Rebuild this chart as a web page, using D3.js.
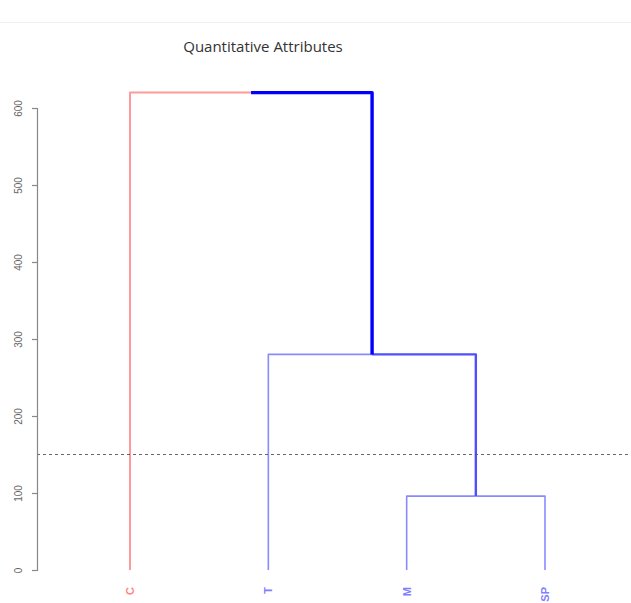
<!DOCTYPE html>
<html>
<head>
<meta charset="utf-8">
<script src="https://cdn.jsdelivr.net/npm/d3@7"></script>
<style>
  html, body { margin: 0; padding: 0; background: #fff; overflow: hidden; }
  svg { display: block; }
</style>
</head>
<body>
<svg id="chart" width="631" height="603"></svg>
<script>
// Leaves of the dendrogram, left to right
const leaves = ["C", "T", "M", "SP"];
// Cluster membership of each leaf (k = 2 cut)
const leafCluster = ["red", "blue", "blue", "blue"];
// Agglomeration steps: [left child, right child, height]; numbers refer to earlier merges
const merges = [
  ["M", "SP", 96],
  ["T", 0, 280],
  ["C", 1, 620]
];
// Height of the cut line
const cutHeight = 150;
// Y-axis ticks
const yTicks = [0, 100, 200, 300, 400, 500, 600];
const title = "Quantitative Attributes";

const svg = d3.select("#chart");
const W = 631, H = 603;

// faint header strip at the very top
svg.append("line").attr("x1", 0).attr("x2", W).attr("y1", 22.5).attr("y2", 22.5)
  .attr("stroke", "#eeeeee").attr("stroke-width", 1);

const x = d3.scalePoint().domain(leaves).range([130, 545]);
const y = d3.scaleLinear().domain([0, 600]).range([570, 108]);

// Edge styles (edge drawn from a node up to its parent)
const styles = {
  red:    { stroke: "#ff9a9a", width: 2 },
  thin:   { stroke: "#8a8aff", width: 1.6 },
  medium: { stroke: "#4f4fff", width: 2.4 },
  thick:  { stroke: "#0000ff", width: 3.4 }
};

// Leaf nodes
const nodes = {};
leaves.forEach((name, i) => {
  nodes[name] = { x: x(name), h: 0, style: leafCluster[i] === "red" ? "red" : "thin" };
});
// Internal nodes, each centred between its two children
const built = [];
merges.forEach(m => {
  const a = typeof m[0] === "number" ? built[m[0]] : nodes[m[0]];
  const b = typeof m[1] === "number" ? built[m[1]] : nodes[m[1]];
  built.push({ x: (a.x + b.x) / 2, h: m[2], children: [a, b] });
});
// Styles of internal edges: merge 0 sits under merge 1, merge 1 under the root
built[0].style = "medium";
built[1].style = "thick";

const g = svg.append("g");
built.forEach(node => {
  node.children.forEach(child => {
    const st = styles[child.style];
    const path = d3.path();
    path.moveTo(child.x, y(child.h));
    path.lineTo(child.x, y(node.h));
    path.lineTo(node.x, y(node.h));
    g.append("path")
      .attr("d", path.toString())
      .attr("fill", "none")
      .attr("stroke", st.stroke)
      .attr("stroke-width", st.width)
      .attr("stroke-linejoin", "round")
      .attr("stroke-linecap", "butt");
  });
});

// Cut line
svg.append("line")
  .attr("x1", 37).attr("x2", W)
  .attr("y1", y(cutHeight)).attr("y2", y(cutHeight))
  .attr("stroke", "#555").attr("stroke-width", 0.9)
  .attr("stroke-dasharray", "3,3");

// Y axis
const axis = svg.append("g").attr("transform", "translate(37,0)");
axis.call(d3.axisLeft(y).tickValues(yTicks).tickSize(5).tickFormat(d3.format("d")));
axis.selectAll(".domain").attr("stroke", "#888").attr("stroke-width", 1.2);
axis.selectAll(".tick line").attr("stroke", "#888").attr("stroke-width", 1.2);
axis.selectAll(".tick text")
  .attr("fill", "#666")
  .attr("font-family", "Liberation Sans, Arial, sans-serif")
  .attr("font-size", 10)
  .attr("x", 0)
  .attr("text-anchor", "middle")
  .attr("transform", "translate(-19,0) rotate(-90)")
  .attr("dy", "0.35em");

// Leaf labels
svg.append("g").selectAll("text")
  .data(leaves)
  .join("text")
  .attr("transform", d => `translate(${x(d)},587) rotate(-90)`)
  .attr("text-anchor", "end")
  .attr("dy", "0.35em")
  .attr("font-family", "Liberation Sans, Arial, sans-serif")
  .attr("font-weight", "bold")
  .attr("font-size", 11)
  .attr("fill", (d, i) => leafCluster[i] === "red" ? "#ff8080" : "#7f7fff")
  .text(d => d);

// Title
svg.append("text")
  .attr("x", 263).attr("y", 52)
  .attr("text-anchor", "middle")
  .attr("font-family", "Open Sans, sans-serif")
  .attr("font-size", 15)
  .attr("fill", "#333")
  .text(title);
</script>
</body>
</html>
